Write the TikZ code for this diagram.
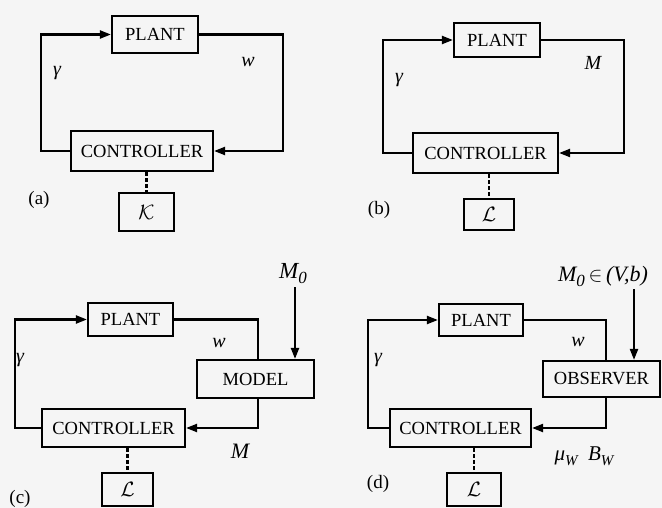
\documentclass[tikz,border=0pt]{standalone}
\usepackage{fontspec}
\setmainfont{Liberation Serif}
\usetikzlibrary{arrows.meta}
\begin{document}
\begin{tikzpicture}[x=1pt,y=-1pt,
  blk/.style={draw,line width=2.2pt,inner sep=0pt,font=\fontsize{18.5}{20}\selectfont},
  conn/.style={line width=2.2pt},
  arr/.style={conn,-{Triangle[length=11pt,width=8pt]}},
  dsh/.style={line width=2.2pt,dash pattern=on 3.5pt off 2.5pt},
  lab/.style={font=\fontsize{20}{22}\selectfont\itshape,inner sep=0pt},
  tag/.style={font=\fontsize{19}{21}\selectfont,inner sep=0pt},
  ]
\path[fill=black!4] (0,0) rectangle (662,508);

% ---------- (a)
\node[blk,minimum width=86pt,minimum height=37pt] (pa) at (155,34.5) {PLANT};
\node[blk,minimum width=142pt,minimum height=40pt] (ca) at (142,151) {CONTROLLER};
\node[blk,minimum width=55pt,minimum height=38pt,font=\fontsize{21}{22}\selectfont] (ka) at (146.5,212) {$\mathcal{K}$};
\coordinate (la) at (41,100);
\coordinate (ra) at (283,100);
\draw[arr] (ca.west) -| (la) |- (pa.west);
\draw[arr] (pa.east) -| (ra) |- (ca.east);
\draw[dsh] (ca.south -| ka.north) -- (ka.north);
\node[lab] (ga) at (57,73) {γ};
\node[lab] (wa) at (248,62) {w};
\node[tag] (ta) at (39,200) {(a)};

% ---------- (b)
\node[blk,minimum width=86pt,minimum height=34pt] (pb) at (497,40) {PLANT};
\node[blk,minimum width=145pt,minimum height=40pt] (cb) at (485.5,153) {CONTROLLER};
\node[blk,minimum width=50pt,minimum height=31pt,font=\fontsize{21}{22}\selectfont] (lb) at (489,214.5) {$\mathcal{L}$};
\coordinate (lbx) at (383,100);
\coordinate (rbx) at (624,100);
\draw[arr] (cb.west) -| (lbx) |- (pb.west);
\draw[arr] (pb.east) -| (rbx) |- (cb.east);
\draw[dsh] (cb.south -| lb.north) -- (lb.north);
\node[lab] (gb) at (399,80) {γ};
\node[lab] (mb) at (593,63) {M};
\node[tag] (tb) at (379,210) {(b)};

% ---------- (c)
\node[blk,minimum width=85pt,minimum height=33pt] (pc) at (130.5,319.5) {PLANT};
\node[blk,minimum width=117pt,minimum height=38pt] (mc) at (255.5,379) {MODEL};
\node[blk,minimum width=143pt,minimum height=38pt] (cc) at (113.5,428) {CONTROLLER};
\node[blk,minimum width=51pt,minimum height=33pt,font=\fontsize{21}{22}\selectfont] (lc) at (127.5,489.5) {$\mathcal{L}$};
\coordinate (lcx) at (15,380);
\coordinate (rcx) at (258,380);
\draw[arr] (cc.west) -| (lcx) |- (pc.west);
\draw[conn] (pc.east) -| (mc.north -| rcx);
\draw[arr] (mc.south -| rcx) |- (cc.east);
\draw[dsh] (cc.south -| lc.north) -- (lc.north);
\node[lab,font=\fontsize{23}{25}\selectfont\itshape] (m0c) at (293,274) {M\raisebox{-5pt}{\fontsize{17}{17}\selectfont 0}};
\coordinate (a0c) at (295,287);
\draw[arr] (a0c) -- (mc.north -| a0c);
\node[lab] (gc) at (20,360) {γ};
\node[lab] (wc) at (219,343) {w};
\node[lab,font=\fontsize{22}{24}\selectfont\itshape] (mmc) at (240,451) {M};
\node[tag] (tc) at (20,499) {(c)};

% ---------- (d)
\node[blk,minimum width=84pt,minimum height=32pt] (pd) at (481,320) {PLANT};
\node[blk,minimum width=117pt,minimum height=36pt] (od) at (601.5,379) {OBSERVER};
\node[blk,minimum width=141pt,minimum height=38pt] (cd) at (460.5,428) {CONTROLLER};
\node[blk,minimum width=54pt,minimum height=33pt,font=\fontsize{21}{22}\selectfont] (ld) at (474,489.5) {$\mathcal{L}$};
\coordinate (ldx) at (368,380);
\coordinate (rdx) at (606,380);
\draw[arr] (cd.west) -| (ldx) |- (pd.west);
\draw[conn] (pd.east) -| (od.north -| rdx);
\draw[arr] (od.south -| rdx) |- (cd.east);
\draw[dsh] (cd.south -| ld.north) -- (ld.north);
\node[lab,font=\fontsize{22}{24}\selectfont\itshape] (m0d) at (603,276) {M\raisebox{-5pt}{\fontsize{17}{17}\selectfont 0}\,$\in$\,(V,b)};
\coordinate (a0d) at (634,289);
\draw[arr] (a0d) -- (od.north -| a0d);
\node[lab] (gd) at (378,360) {γ};
\node[lab] (wd) at (578,342) {w};
\node[lab,font=\fontsize{21}{23}\selectfont\itshape] (mub) at (584,456) {μ\raisebox{-5pt}{\fontsize{15}{15}\selectfont W}\enspace B\raisebox{-5pt}{\fontsize{15}{15}\selectfont W}};
\node[tag] (td) at (378,484) {(d)};
\end{tikzpicture}
\end{document}
